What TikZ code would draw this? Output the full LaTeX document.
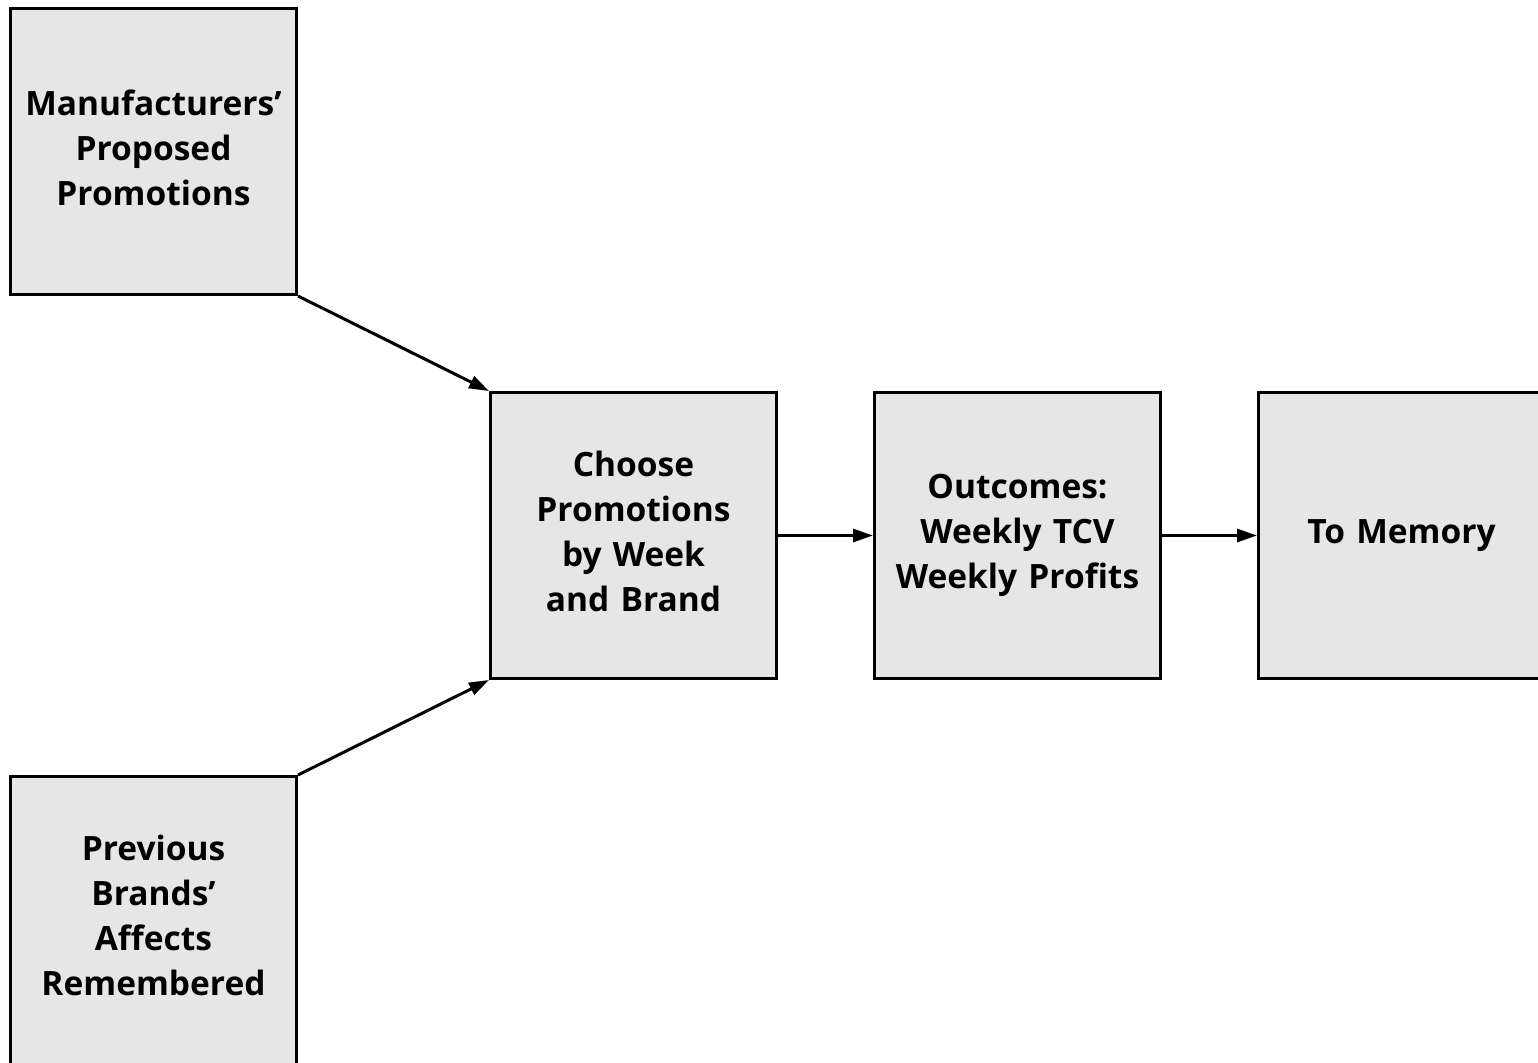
\documentclass[tikz,border=0pt]{standalone}
\usepackage{fontspec}
\setmainfont{Open Sans}
\usetikzlibrary{arrows.meta}
\definecolor{boxgray}{RGB}{230,230,230}
\tikzset{
  boxtext/.style={inner sep=0pt, align=center, font=\fontsize{33.5}{45}\selectfont\bfseries, text width=284pt},
  box/.style={boxtext, draw=black, line width=3pt, fill=boxgray, minimum width=286pt, minimum height=286pt},
  conn/.style={line width=3pt, -{Triangle[length=20pt,width=13pt]}}
}
\begin{document}
\begin{tikzpicture}[x=1pt,y=-1pt]
\useasboundingbox (0,0) rectangle (1538,1062);
\node[box] (man) at (153.5,151.5) {Manufacturers’\\Proposed\\Promotions\vphantom{y}};
\node[box, minimum height=300pt] (prev) at (153.5,926.5) {};
\node[boxtext] (prevtext) at ([yshift=7pt]prev.center) {Previous\\Brands’\\Affects\\Remembered\vphantom{y}};
\node[box] (choose) at (633.5,535.5) {Choose\\Promotions\\by Week\\and Brand\vphantom{y}};
\node[box] (out) at (1017.5,535.5) {Outcomes:\\Weekly TCV\\Weekly Profits};
\node[box, minimum width=300pt] (mem) at (1408.5,535.5) {\hspace*{-14pt}To Memory};
\draw[conn] (man.south east) -- (choose.north west);
\draw[conn] (prev.north east) -- (choose.south west);
\draw[conn] (choose.east) -- (out.west);
\draw[conn] (out.east) -- (mem.west);
\end{tikzpicture}
\end{document}
